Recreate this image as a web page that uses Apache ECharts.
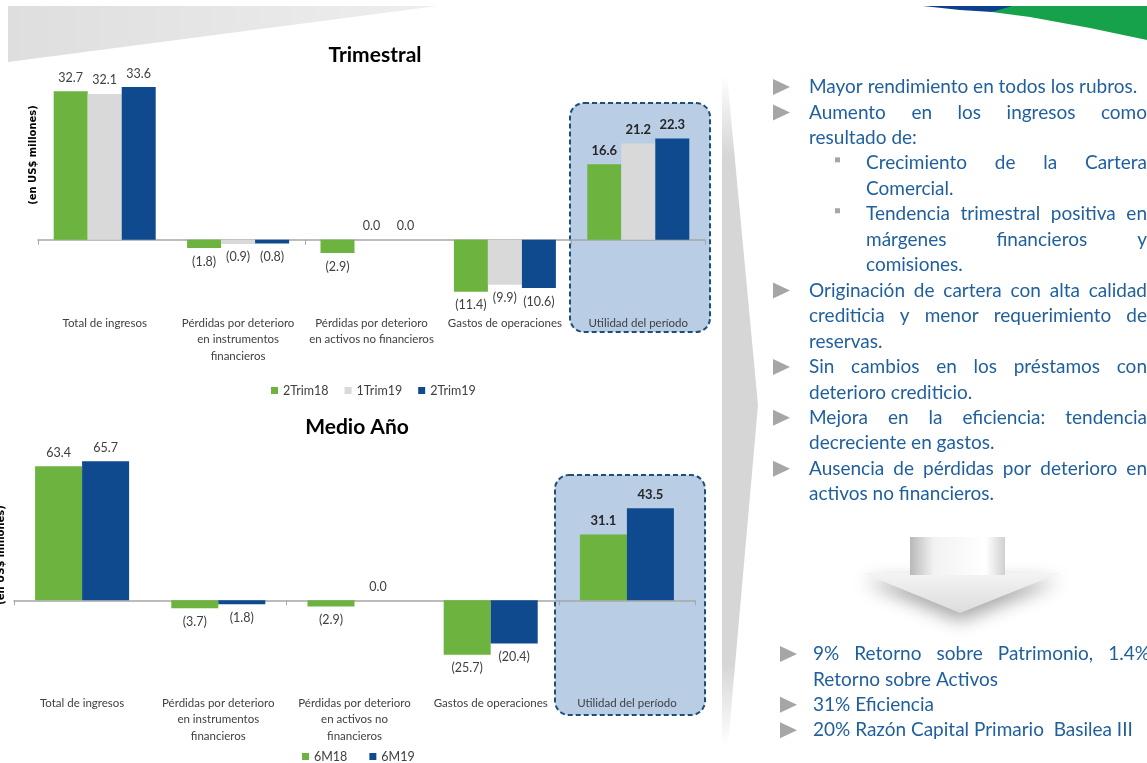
<!DOCTYPE html>
<html>
<head>
<meta charset="utf-8">
<title>Trimestral - Medio Año</title>
<script src="https://cdn.jsdelivr.net/npm/echarts@6/dist/echarts.min.js"></script>
<style>
  html, body { margin: 0; padding: 0; background: #fff; }
  #main { width: 1147px; height: 763px; }
</style>
</head>
<body>
<div id="main"></div>
<script>
// --- datos ---
var categoriasTrim = ['Total de ingresos', 'Pérdidas por deterioro\nen instrumentos\nfinancieros',
  'Pérdidas por deterioro\nen activos no financieros', 'Gastos de operaciones', 'Utilidad del período'];
var categoriasSem = ['Total de ingresos', 'Pérdidas por deterioro\nen instrumentos\nfinancieros',
  'Pérdidas por deterioro\nen activos no\nfinancieros', 'Gastos de operaciones', 'Utilidad del período'];

var nombresTrim = ['2Trim18', '1Trim19', '2Trim19'];
var trim2T18 = [32.7, -1.8, -2.9, -11.4, 16.6];
var trim1T19 = [32.1, -0.9, 0.0, -9.9, 21.2];
var trim2T19 = [33.6, -0.8, 0.0, -10.6, 22.3];

var nombresSem = ['6M18', '6M19'];
var sem6M18 = [63.4, -3.7, -2.9, -25.7, 31.1];
var sem6M19 = [65.7, -1.8, 0.0, -20.4, 43.5];

// texto del panel derecho: [nivel, justificado, texto]
var puntos = [
  [1, 0, 'Mayor rendimiento en todos los rubros.'],
  [1, 1, 'Aumento en los ingresos como'],
  [0, 0, 'resultado de:'],
  [2, 1, 'Crecimiento de la Cartera'],
  [3, 0, 'Comercial.'],
  [2, 1, 'Tendencia trimestral positiva en'],
  [3, 1, 'márgenes financieros y'],
  [3, 0, 'comisiones.'],
  [1, 1, 'Originación de cartera con alta calidad'],
  [0, 1, 'crediticia y menor requerimiento de'],
  [0, 0, 'reservas.'],
  [1, 1, 'Sin cambios en los préstamos con'],
  [0, 0, 'deterioro crediticio.'],
  [1, 1, 'Mejora en la eficiencia: tendencia'],
  [0, 0, 'decreciente en gastos.'],
  [1, 1, 'Ausencia de pérdidas por deterioro en'],
  [0, 0, 'activos no financieros.']
];
var resumen = [
  [1, 1, '9% Retorno sobre Patrimonio, 1.4%'],
  [0, 0, 'Retorno sobre Activos'],
  [1, 0, '31% Eficiencia'],
  [1, 0, '20% Razón Capital Primario  Basilea III']
];

var verde = '#6cb33f', gris = '#d9d9d9', azul = '#0f4a8e';
var fuente = 'Lato';
var azulTexto = '#1f5f9e';

function fmt(p) {
  var v = p.value;
  return v < 0 ? '(' + Math.abs(v).toFixed(1) + ')' : v.toFixed(1);
}

function datos(arr) {
  return arr.map(function (v, i) {
    var it = { value: v, label: { position: v < 0 ? 'bottom' : 'top' } };
    if (i === 4) {
      it.label.fontWeight = 'bold';
      it.label.fontSize = 13;
      it.label.color = '#262626';
    }
    return it;
  });
}

function serie(nombre, arr, color, grid, ancho) {
  return {
    type: 'bar', name: nombre, xAxisIndex: grid * 2, yAxisIndex: grid,
    data: datos(arr), barWidth: ancho, barGap: '0%',
    itemStyle: { color: color },
    label: { show: true, formatter: fmt, fontSize: 12.5, color: '#404040', distance: 7, fontFamily: fuente }
  };
}

function ejes(cats, grid, margen) {
  return [{
    gridIndex: grid, type: 'category', data: cats,
    axisLine: { onZero: true, lineStyle: { color: '#a6a6a6', width: 1.5 } },
    axisTick: { show: true, length: 5, lineStyle: { color: '#a6a6a6' } },
    axisLabel: { show: false }
  }, {
    gridIndex: grid, type: 'category', data: cats, position: 'bottom',
    axisLine: { show: false, onZero: false }, axisTick: { show: false },
    axisLabel: { interval: 0, margin: margen, fontSize: 11.5, lineHeight: 16.5, color: '#404040', fontFamily: fuente }
  }];
}

// --- texto justificado ---
var cv = document.createElement('canvas').getContext('2d');
var tamTexto = 19;
cv.font = tamTexto + 'px ' + fuente;

var graficos = [];

function palabra(t, x, y) {
  graficos.push({
    type: 'text', x: x, y: y,
    style: { text: t, fill: azulTexto, font: tamTexto + 'px ' + fuente, textVerticalAlign: 'middle' }
  });
}

function linea(t, x, y, just, der) {
  if (!just) { palabra(t, x, y); return; }
  var ps = t.split(' ');
  var anchos = ps.map(function (p) { return cv.measureText(p).width; });
  var total = anchos.reduce(function (a, b) { return a + b; }, 0);
  var hueco = (der - x - total) / (ps.length - 1);
  var cx = x;
  ps.forEach(function (p, i) { palabra(p, cx, y); cx += anchos[i] + hueco; });
}

function flecha(x, y) {
  graficos.push({ type: 'polygon', shape: { points: [[x, y - 8], [x + 17, y], [x, y + 8]] }, style: { fill: '#a6a6a6' } });
}
function cuadro(x, y) {
  graficos.push({ type: 'rect', shape: { x: x, y: y - 6, width: 5, height: 5 }, style: { fill: '#a6a6a6' } });
}

function bloque(lista, y0, paso, xb, xt, xs, xst, der) {
  lista.forEach(function (l, i) {
    var y = y0 + i * paso;
    var nivel = l[0];
    var x = xt;
    if (nivel === 1) flecha(xb, y);
    if (nivel === 2) { cuadro(xs, y); x = xst; }
    if (nivel === 3) x = xst;
    linea(l[2], x, y, l[1], der);
  });
}

// fondo y decoraciones
graficos.push(
  { type: 'polygon', z: -20, shape: { points: [[8, 6], [437, 6], [8, 62]] },
    style: { fill: new echarts.graphic.LinearGradient(0, 0, 1, 0, [{ offset: 0, color: '#dedede' }, { offset: 1, color: '#eeeeee' }]) } },
  { type: 'polygon', z: -20, shape: { points: [[1000, 6], [1147, 6], [1147, 40], [1090, 28], [1030, 17], [992, 12]] }, style: { fill: '#16a24a' } },
  { type: 'polygon', z: -19, shape: { points: [[923, 6], [1012, 6], [992, 12], [960, 10]] }, style: { fill: '#0d3f8f' } },
  { type: 'rect', z: -10, shape: { x: 570, y: 103, width: 140, height: 229, r: 14 },
    style: { fill: '#b9cde5', stroke: '#1f4e79', lineWidth: 2, lineDash: [5, 3] } },
  { type: 'rect', z: -10, shape: { x: 555, y: 475, width: 150, height: 240, r: 14 },
    style: { fill: '#b9cde5', stroke: '#1f4e79', lineWidth: 2, lineDash: [5, 3] } },
  { type: 'polygon', z: -20, shape: { points: [[722, 75], [727, 75], [758, 405], [728, 745], [722, 745]] },
    style: { fill: new echarts.graphic.LinearGradient(0, 0, 0, 1, [
      { offset: 0, color: 'rgba(214,214,214,0)' }, { offset: 0.12, color: '#d6d6d6' },
      { offset: 0.88, color: '#d6d6d6' }, { offset: 1, color: 'rgba(214,214,214,0)' }]) } },
  // flecha hacia abajo
  { type: 'polygon', z: -15, shape: { points: [[863, 573], [1060, 573], [960, 613]] },
    style: { fill: new echarts.graphic.LinearGradient(0, 0, 0, 1, [{ offset: 0, color: '#f4f4f4' }, { offset: 1, color: '#dcdcdc' }]),
      shadowBlur: 18, shadowColor: 'rgba(0,0,0,0.35)', shadowOffsetY: 8 } },
  { type: 'rect', z: -14, shape: { x: 910, y: 537, width: 95, height: 38 },
    style: { fill: new echarts.graphic.LinearGradient(0, 0, 1, 0, [
      { offset: 0, color: '#b8b8b8' }, { offset: 0.25, color: '#f2f2f2' }, { offset: 0.8, color: '#ffffff' }, { offset: 1, color: '#d0d0d0' }]) } },
  { type: 'text', x: 33, y: 155, rotation: Math.PI / 2,
    style: { text: '(en US$ millones)', font: 'bold 10px "DejaVu Sans"', fill: '#000', textAlign: 'center', textVerticalAlign: 'middle' } },
  { type: 'text', x: 1, y: 555, rotation: Math.PI / 2,
    style: { text: '(en US$ millones)', font: 'bold 10px "DejaVu Sans"', fill: '#000', textAlign: 'center', textVerticalAlign: 'middle' } }
);

bloque(puntos, 87, 25.45, 773, 809, 835, 866, 1147);
bloque(resumen, 654, 25.4, 780, 813, 0, 0, 1150);

// --- gráfico ---
var myChart = echarts.init(document.getElementById('main'));

myChart.setOption({
  animation: false,
  backgroundColor: '#fff',
  title: [
    { text: 'Trimestral', left: 370, top: 40, textAlign: 'center', textStyle: { fontSize: 21, fontWeight: 'bold', color: '#000', fontFamily: fuente } },
    { text: 'Medio Año', left: 352, top: 412, textAlign: 'center', textStyle: { fontSize: 21, fontWeight: 'bold', color: '#000', fontFamily: fuente } }
  ],
  legend: [
    { data: nombresTrim, left: 266, top: 379, icon: 'rect', itemWidth: 7, itemHeight: 7, itemGap: 16,
      textStyle: { fontSize: 12.5, color: '#404040', fontFamily: fuente } },
    { data: nombresSem, left: 297, top: 745, icon: 'rect', itemWidth: 7, itemHeight: 7, itemGap: 22,
      textStyle: { fontSize: 12.5, color: '#404040', fontFamily: fuente } }
  ],
  grid: [
    { left: 38, width: 667, top: 58, height: 250 },
    { left: 14, width: 681, top: 431, height: 254 }
  ],
  xAxis: ejes(categoriasTrim, 0, 7).concat(ejes(categoriasSem, 1, 10)),
  yAxis: [
    { gridIndex: 0, type: 'value', min: -15, max: 40, show: false },
    { gridIndex: 1, type: 'value', min: -40, max: 80, show: false }
  ],
  series: [
    serie(nombresTrim[0], trim2T18, verde, 0, 34),
    serie(nombresTrim[1], trim1T19, gris, 0, 34),
    serie(nombresTrim[2], trim2T19, azul, 0, 34),
    serie(nombresSem[0], sem6M18, verde, 1, 47),
    serie(nombresSem[1], sem6M19, azul, 1, 47)
  ],
  graphic: { elements: graficos }
});
</script>
</body>
</html>
